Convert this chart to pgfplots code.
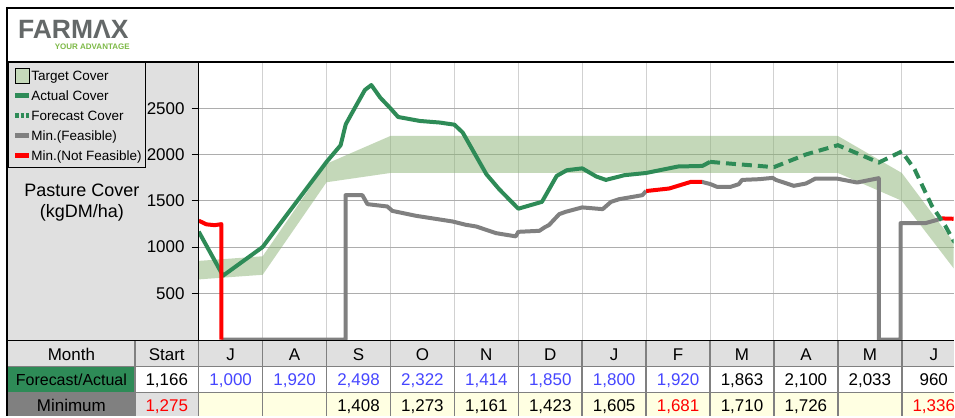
\documentclass[border=0pt]{standalone}
\usepackage{fontspec}
\setmainfont{Liberation Sans}
\usepackage{pgfplots}
\pgfplotsset{compat=1.18}

\definecolor{cvgreen}{RGB}{46,139,87}
\definecolor{bandgreen}{RGB}{197,217,186}
\definecolor{bandfill}{RGB}{139,179,117}% half-opacity fill giving bandgreen on white
\definecolor{minGrey}{RGB}{128,128,128}
\definecolor{panel}{RGB}{224,224,224}
\definecolor{cellyellow}{RGB}{255,255,226}
\definecolor{numblue}{RGB}{70,70,255}
\definecolor{logogrey}{RGB}{100,104,104}
\definecolor{logogreen}{RGB}{125,185,70}

\newcommand\tabfont{\fontsize{17}{20}\selectfont}
\newcommand\cell[4]{\node[anchor=base, font=\tabfont, text=#3, inner sep=0pt] at (#1,#2) {#4};}

\begin{document}
\begin{tikzpicture}
\begin{scope}[x=1pt,y=-1pt]
  \fill[white] (0,0) rectangle (955,417);
  \fill[panel] (8,62) rectangle (199,341);
  \node[anchor=base west, inner sep=0pt, text=logogrey,
        font=\fontsize{26.5}{26.5}\selectfont\bfseries] at (18,38.5) {FARMΛX};
  \node[anchor=base east, inner sep=0pt, text=logogreen,
        font=\fontsize{8}{8}\selectfont\bfseries] at (130,50) {YOUR ADVANTAGE};
\end{scope}

\begin{axis}[
  at={(199pt,-340pt)}, anchor=south west,
  scale only axis, width=756pt, height=278pt,
  xmin=0, xmax=11.8125, ymin=0, ymax=3000,
  axis line style={draw=none},
  xtick={1,...,11}, xticklabels={}, xtick style={draw=none},
  ytick={500,1000,1500,2000,2500}, ytick pos=left,
  tick align=outside, major tick length=7pt,
  ytick style={black, line width=1pt},
  grid=major,
  major x grid style={draw=black!18, line width=1pt},
  major y grid style={draw=black!32, line width=1pt},
  yticklabel style={font=\fontsize{17}{17}\selectfont, inner sep=0pt, xshift=-7pt},
  /pgf/number format/1000 sep={},
  /pgf/number format/assume math mode=true,
  ylabel={Pasture Cover\\(kgDM/ha)},
  ylabel style={rotate=-90, at={(axis description cs:-0.1548,0.493)}, anchor=center,
                align=center, font=\fontsize{18}{21}\selectfont},
  legend style={at={(axis description cs:-0.2526,1)}, anchor=north west,
                draw=black, line width=1pt, fill=panel, inner xsep=4pt, inner ysep=2.5pt,
                row sep=0pt, font=\fontsize{13.5}{15}\selectfont,
                nodes={inner sep=0pt, text height=12pt, text depth=1pt, minimum height=20pt},
                /tikz/every even column/.append style={column sep=7.5pt}},
  legend cell align=left,
]
% target band
\addplot[fill=bandfill, fill opacity=0.5, draw=none, forget plot] coordinates {
  (0,650) (1,700) (2,1700) (3,1800) (10,1800) (11,1500) (12,600)
  (12,880) (11,1800) (10,2200) (3,2200) (2,1900) (1,900) (0,850)} -- cycle;

% actual cover
\addplot[cvgreen, line width=4pt, line join=round, forget plot] coordinates {
  (0,1166) (0.38,690) (1,1000) (2,1920) (2.22,2100) (2.3,2326) (2.43,2488)
  (2.6,2697) (2.7,2750) (2.84,2614) (3,2498) (3.12,2405) (3.46,2362) (3.77,2345)
  (4,2322) (4.13,2237) (4.5,1787) (4.7,1625) (5,1414) (5.37,1488) (5.6,1768)
  (5.76,1830) (6,1850) (6.22,1762) (6.37,1725) (6.66,1776) (7,1800) (7.5,1870)
  (7.88,1876) (8,1920)};

% minimum, feasible
\addplot[minGrey, line width=4pt, line join=round, forget plot] coordinates {
  (0.355,0) (2.297,0) (2.297,1560) (2.56,1560) (2.64,1463) (2.95,1438) (3,1408)
  (3.03,1390) (3.4,1337) (3.97,1276) (4.18,1240) (4.34,1222) (4.65,1150)
  (4.96,1115) (5.0,1164) (5.33,1175) (5.41,1212) (5.48,1237) (5.64,1355)
  (5.74,1380) (6.0,1428) (6.32,1409) (6.45,1488) (6.58,1517) (6.79,1542)
  (6.94,1560) (7.0,1605)};
\addplot[minGrey, line width=4pt, line join=round, forget plot] coordinates {
  (7.87,1704) (8.0,1681) (8.11,1650) (8.32,1650) (8.45,1679) (8.5,1725)
  (8.77,1733) (8.98,1747) (9.03,1725) (9.31,1661) (9.5,1686) (9.65,1740)
  (9.98,1740) (10.3,1697) (10.64,1744) (10.64,0) (10.98,0) (10.98,1258)
  (11.37,1258) (11.5,1283) (11.63,1309)};

% minimum, not feasible
\addplot[red, line width=4pt, line join=round, forget plot] coordinates {
  (0,1285) (0.12,1245) (0.25,1236) (0.355,1247) (0.355,0)};
\addplot[red, line width=4pt, line join=round, forget plot] coordinates {
  (7.0,1605) (7.36,1632) (7.70,1704) (7.87,1704)};
\addplot[red, line width=4pt, line join=round, forget plot] coordinates {
  (11.63,1309) (11.8,1305) (12,1336)};

% forecast cover
\addplot[cvgreen, line width=4pt, dash pattern=on 10pt off 6pt, forget plot] coordinates {
  (8,1920) (8.3,1902) (9,1863) (9.5,2000) (10,2100) (10.64,1913) (11,2033)
  (11.2,1840) (11.47,1445) (11.68,1229) (11.81,1067) (12,960)};

\addlegendimage{legend image code/.code={\draw[fill=bandgreen, draw=black, line width=0.8pt] (0pt,-8.5pt) rectangle (14pt,6.5pt);}}
\addlegendentry{Target Cover}
\addlegendimage{legend image code/.code={\draw[cvgreen, line width=5pt] (0pt,-1pt) -- (14pt,-1pt);}}
\addlegendentry{Actual Cover}
\addlegendimage{legend image code/.code={\draw[cvgreen, line width=5pt, dash pattern=on 3.5pt off 2pt] (0pt,-1pt) -- (14pt,-1pt);}}
\addlegendentry{Forecast Cover}
\addlegendimage{legend image code/.code={\draw[minGrey, line width=5pt] (0pt,-1pt) -- (14pt,-1pt);}}
\addlegendentry{Min.(Feasible)}
\addlegendimage{legend image code/.code={\draw[red, line width=5pt] (0pt,-1pt) -- (14pt,-1pt);}}
\addlegendentry{Min.(Not Feasible)}
\end{axis}

\begin{scope}[x=1pt,y=-1pt]
  % table backgrounds
  \fill[panel] (8,341) rectangle (955,367);
  \fill[white] (135,367) rectangle (955,393);
  \fill[cvgreen] (8,367) rectangle (135,393);
  \fill[minGrey] (8,393) rectangle (135,417);
  \fill[panel] (135,393) rectangle (199,417);
  \fill[cellyellow] (199,393) rectangle (955,417);
  \foreach \x in {135,199,263,...,903} \draw[minGrey, line width=1.5pt] (\x,341) -- (\x,417);
  \draw[minGrey, line width=1.5pt] (8,367) -- (955,367) (8,393) -- (955,393);
  \draw[black, line width=1.5pt] (7,341) -- (955,341);
  % month row
  \cell{71.5}{360.7}{black}{Month}
  \cell{167}{360.7}{black}{Start}
  \foreach \m [count=\i from 0] in {J,A,S,O,N,D,J,F,M,A,M,J}
    \node[anchor=base, font=\tabfont, inner sep=0pt] at ({231+64*\i},360.7) {\m};
  % forecast / actual row
  \node[anchor=base, font=\fontsize{16}{20}\selectfont, inner sep=0pt] at (71.5,386) {Forecast/Actual};
  \cell{167}{386}{black}{1,166}
  \cell{231}{386}{numblue}{1,000}
  \cell{295}{386}{numblue}{1,920}
  \cell{359}{386}{numblue}{2,498}
  \cell{423}{386}{numblue}{2,322}
  \cell{487}{386}{numblue}{1,414}
  \cell{551}{386}{numblue}{1,850}
  \cell{615}{386}{numblue}{1,800}
  \cell{679}{386}{numblue}{1,920}
  \cell{743}{386}{black}{1,863}
  \cell{807}{386}{black}{2,100}
  \cell{871}{386}{black}{2,033}
  \cell{935}{386}{black}{960}
  % minimum row
  \cell{71.5}{412}{black}{Minimum}
  \cell{167}{412}{red}{1,275}
  \cell{359}{412}{black}{1,408}
  \cell{423}{412}{black}{1,273}
  \cell{487}{412}{black}{1,161}
  \cell{551}{412}{black}{1,423}
  \cell{615}{412}{black}{1,605}
  \cell{679}{412}{red}{1,681}
  \cell{743}{412}{black}{1,710}
  \cell{807}{412}{black}{1,726}
  \cell{935}{412}{red}{1,336}
  % frame
  \draw[black, line width=1.5pt] (199,62) -- (199,341);
  \draw[black, line width=2pt] (7,8) -- (955,8) (7,62) -- (955,62) (7,7) -- (7,417);
\end{scope}
\end{tikzpicture}
\end{document}
